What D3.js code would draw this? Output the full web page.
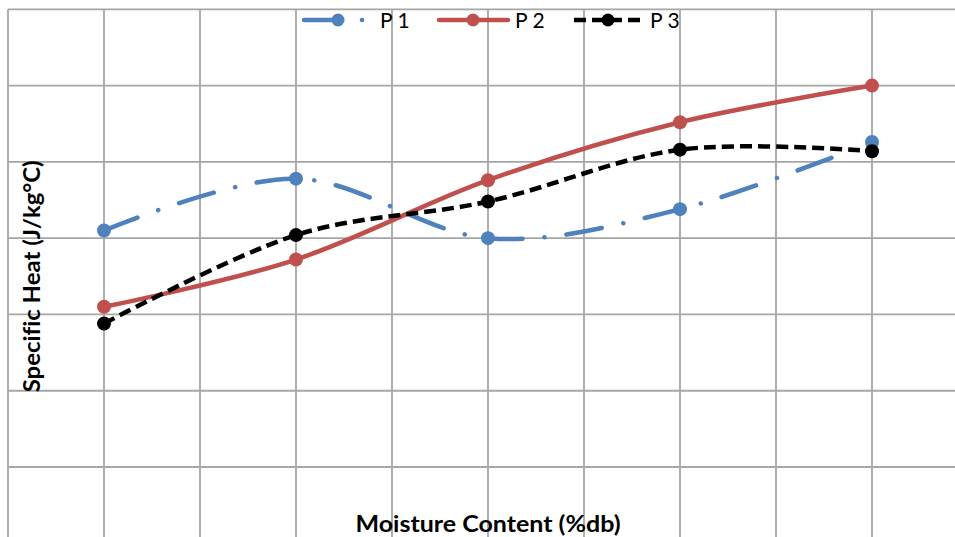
<!DOCTYPE html>
<html>
<head>
<meta charset="utf-8">
<script src="https://cdn.jsdelivr.net/npm/d3@7"></script>
<style>
  html, body { margin: 0; padding: 0; background: #fff; }
  svg { display: block; }
  text { font-variant-ligatures: none; }
</style>
</head>
<body>
<svg id="chart" width="955" height="537"></svg>
<script>
// ---- data ----
const moisture = [10, 20, 30, 40, 50];          // x values (%db)
const p1 = [2.05, 2.39, 2.00, 2.19, 2.63];
const p2 = [1.55, 1.86, 2.38, 2.76, 3.00];
const p3 = [1.44, 2.02, 2.24, 2.58, 2.57];
const seriesNames = ["P 1", "P 2", "P 3"];
const xGridTicks = [5, 10, 15, 20, 25, 30, 35, 40, 45, 50, 55];
const yGridTicks = [0, 0.5, 1, 1.5, 2, 2.5, 3, 3.5];

// ---- layout ----
const svg = d3.select("#chart");
const plot = { left: 8, right: 968, top: 9.3, bottom: 543.3 };
const x = d3.scaleLinear().domain([5, 55]).range([plot.left, plot.right]);
const y = d3.scaleLinear().domain([0, 3.5]).range([plot.bottom, plot.top]);

const styles = [
  { color: "#4F81BD", dash: "36 22 0.1 22", cap: "round" },
  { color: "#C0504D", dash: null, cap: "round" },
  { color: "#000000", dash: "12 6", cap: "butt" }
];
const values = [p1, p2, p3];

// gridlines
const grid = svg.append("g").attr("stroke", "#a6a6a6").attr("stroke-width", 1.8);
grid.selectAll("line.v").data(xGridTicks).join("line")
  .attr("class", "v")
  .attr("x1", d => x(d)).attr("x2", d => x(d))
  .attr("y1", plot.top).attr("y2", plot.bottom);
grid.selectAll("line.h").data(yGridTicks).join("line")
  .attr("class", "h")
  .attr("x1", plot.left).attr("x2", plot.right)
  .attr("y1", d => y(d)).attr("y2", d => y(d));

// series
const line = d3.line()
  .x(d => x(d[0]))
  .y(d => y(d[1]))
  .curve(d3.curveCardinal.tension(0));

values.forEach((vals, i) => {
  const pts = moisture.map((m, j) => [m, vals[j]]);
  const st = styles[i];
  const g = svg.append("g");
  g.append("path")
    .attr("d", line(pts))
    .attr("fill", "none")
    .attr("stroke", st.color)
    .attr("stroke-width", 4.5)
    .attr("stroke-linecap", st.cap)
    .attr("stroke-dasharray", st.dash);
  g.selectAll("circle").data(pts).join("circle")
    .attr("cx", d => x(d[0]))
    .attr("cy", d => y(d[1]))
    .attr("r", 7)
    .attr("fill", st.color);
});

// legend
const legend = svg.append("g");
seriesNames.forEach((name, i) => {
  const x0 = 304 + i * 135;
  const st = styles[i];
  const lg = legend.append("g");
  lg.append("line")
    .attr("x1", x0).attr("x2", x0 + 69)
    .attr("y1", 20).attr("y2", 20)
    .attr("stroke", st.color)
    .attr("stroke-width", 4.5)
    .attr("stroke-linecap", st.cap)
    .attr("stroke-dasharray", st.dash);
  lg.append("circle")
    .attr("cx", x0 + 34).attr("cy", 20).attr("r", 6.5)
    .attr("fill", st.color);
  lg.append("text")
    .attr("x", x0 + 76).attr("y", 27.5)
    .attr("font-family", "Lato, 'Open Sans', sans-serif")
    .attr("font-size", 21)
    .attr("fill", "#000")
    .text(name);
});

// axis titles
svg.append("text")
  .attr("x", (plot.left + plot.right) / 2)
  .attr("y", 531.5)
  .attr("text-anchor", "middle")
  .attr("font-family", "Lato, 'Open Sans', sans-serif")
  .attr("font-weight", "bold")
  .attr("font-size", 23)
  .attr("textLength", 265)
  .attr("lengthAdjust", "spacingAndGlyphs")
  .text("Moisture Content (%db)");

svg.append("text")
  .attr("transform", `translate(39.5, ${(plot.top + plot.bottom) / 2}) rotate(-90)`)
  .attr("text-anchor", "middle")
  .attr("font-family", "Lato, 'Open Sans', sans-serif")
  .attr("font-weight", "bold")
  .attr("font-size", 23)
  .attr("textLength", 232)
  .attr("lengthAdjust", "spacingAndGlyphs")
  .text("Specific Heat (J/kg°C)");
</script>
</body>
</html>
